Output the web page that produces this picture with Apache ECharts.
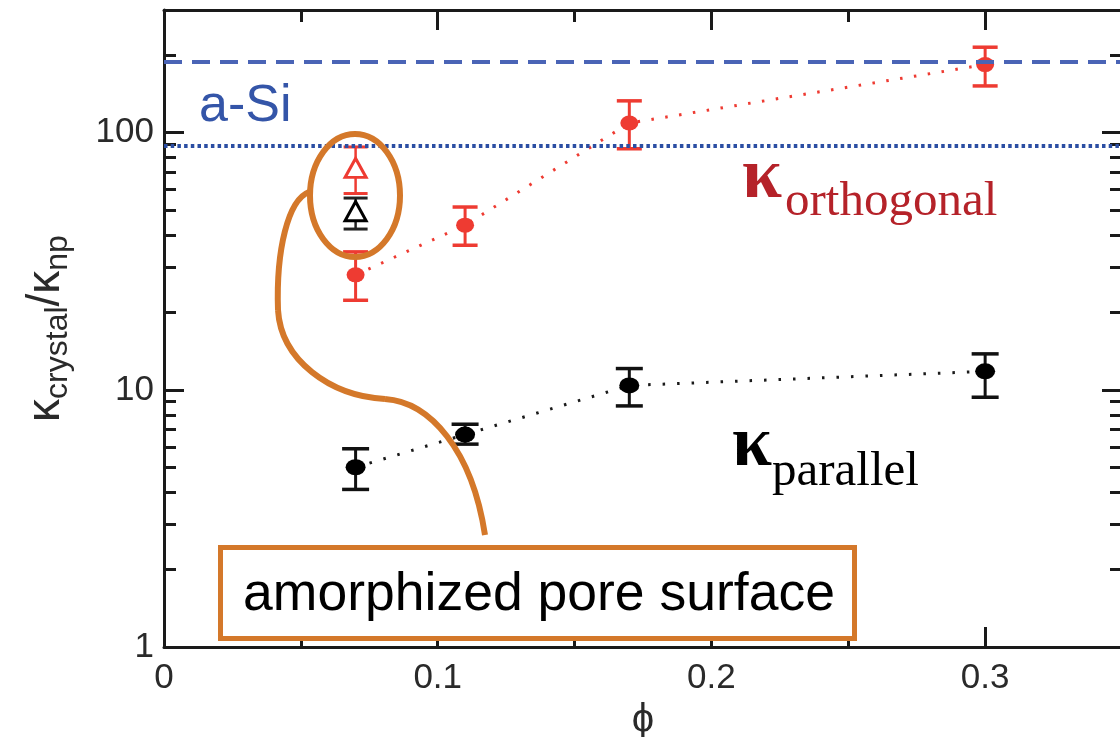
<!DOCTYPE html>
<html><head><meta charset="utf-8">
<script src="https://cdn.jsdelivr.net/npm/echarts@6/dist/echarts.min.js"></script>
<style>html,body{margin:0;padding:0;background:#fff}#c{width:1120px;height:737px}</style>
</head><body><div id="c"></div>
<script>
// ---- data ----
const phi = [0.07, 0.11, 0.17, 0.30];
const orthVal  = [28.0, 43.7, 109, 184];
const orthLow  = [22.3, 36.5, 86.6, 152];
const orthHigh = [34.4, 51.4, 133, 215];
const parVal  = [5.0, 6.7, 10.4, 11.8];
const parLow  = [4.1, 6.15, 8.66, 9.36];
const parHigh = [5.9, 7.35, 12.1, 13.8];
const amorphPhi = [0.07];
const amorphOrthVal = [73];
const amorphOrthLow = [58];
const amorphOrthHigh = [88];
const amorphParVal = [49.5];
const amorphParLow = [42.2];
const amorphParHigh = [55.7];
const aSiDashed = 188;
const aSiDotted = 89;
const yMinorTicks = [2,3,4,5,6,7,8,9,20,30,40,50,60,70,80,90,200,300];

const axisColor = '#1a1a1a';
const orange = '#d4782a';
const sans = '"Liberation Sans", Arial, Helvetica, sans-serif';
const serif = '"Liberation Serif", "Times New Roman", serif';

function xAx(pos, major) {
  return {
    type: 'value', min: 0, max: 0.35, interval: major ? 0.1 : 0.05, position: pos,
    axisLine: { show: major, onZero: false, lineStyle: { color: axisColor, width: 3 } },
    axisTick: { show: true, inside: true, length: major ? 20 : 12, lineStyle: { color: axisColor, width: 3 } },
    axisLabel: (pos === 'bottom' && major) ? {
      show: true, fontSize: 35, color: '#2a2a2a', fontFamily: sans, margin: 14, showMaxLabel: false,
      formatter: v => (v > 0.31 ? '' : String(+v.toFixed(2)))
    } : { show: false },
    splitLine: { show: false },
    name: (pos === 'bottom' && major) ? 'ϕ' : '',
    nameLocation: 'middle', nameGap: 44,
    nameTextStyle: { fontSize: 40, color: '#2a2a2a', fontFamily: sans }
  };
}
function yAx(pos, major) {
  const o = {
    type: 'log', logBase: 10, min: 1, max: 300, position: pos, offset: 0,
    axisLine: { show: major, onZero: false, lineStyle: { color: axisColor, width: 3 } },
    axisTick: { show: true, inside: true, length: major ? 20 : 12, lineStyle: { color: axisColor, width: 3 } },
    axisLabel: { show: false },
    splitLine: { show: false }
  };
  if (!major) o.axisTick.customValues = yMinorTicks;
  if (pos === 'left' && major) {
    o.axisLabel = { show: true, fontSize: 35, color: '#2a2a2a', fontFamily: sans, margin: 10,
      formatter: v => ([1, 10, 100].indexOf(Math.round(v)) >= 0 ? String(Math.round(v)) : '') };
    o.name = '{k|κ}{s|crystal}{k|/κ}{s|np}';
    o.nameLocation = 'middle';
    o.nameGap = 90;
    o.nameRotate = 90;
    o.nameTextStyle = { color: '#2a2a2a', rich: {
      k: { fontSize: 46, fontFamily: sans, color: '#2a2a2a' },
      s: { fontSize: 32, fontFamily: sans, color: '#2a2a2a', padding: [24, 0, 0, 0] }
    } };
  }
  return o;
}

function errBar(color, width, cap) {
  return function (params, api) {
    const x = api.value(0), lo = api.value(1), hi = api.value(2);
    const a = api.coord([x, hi]);
    const b = api.coord([x, lo]);
    const st = { stroke: color, lineWidth: width };
    return { type: 'group', children: [
      { type: 'line', shape: { x1: a[0], y1: a[1], x2: b[0], y2: b[1] }, style: st },
      { type: 'line', shape: { x1: a[0] - cap, y1: a[1], x2: a[0] + cap, y2: a[1] }, style: { stroke: color, lineWidth: width + 0.5 } },
      { type: 'line', shape: { x1: b[0] - cap, y1: b[1], x2: b[0] + cap, y2: b[1] }, style: { stroke: color, lineWidth: width + 0.5 } }
    ] };
  };
}
const zip3 = (xs, lo, hi) => xs.map((x, i) => [x, lo[i], hi[i]]);
const zip2 = (xs, ys) => xs.map((x, i) => [x, ys[i]]);

const red = '#ee3b32';
const option = {
  animation: false,
  backgroundColor: '#fff',
  grid: { left: 164, top: 10, width: 958, height: 637, containLabel: false, outerBoundsMode: 'none' },
  xAxis: [xAx('bottom', true), xAx('bottom', false), xAx('top', true), xAx('top', false)],
  yAxis: [yAx('left', true), yAx('left', false), yAx('right', true), yAx('right', false)],
  series: [
    { type: 'line', name: 'orth-line', data: zip2(phi, orthVal), symbol: 'none', z: 2,
      lineStyle: { color: red, width: 3, type: [2.5, 11.5] },
      markLine: { silent: true, symbol: ['none', 'none'], label: { show: false },
        data: [
          { yAxis: aSiDashed, lineStyle: { color: '#4a64b6', width: 4, type: [18, 10] } },
          { yAxis: aSiDotted, lineStyle: { color: '#2b4ea3', width: 4, type: [3.5, 3.2] } }
        ] } },
    { type: 'line', name: 'par-line', data: zip2(phi, parVal), symbol: 'none', z: 2,
      lineStyle: { color: '#1a1a1a', width: 3, type: [2.5, 12] } },
    { type: 'custom', name: 'orth-err', data: zip3(phi, orthLow, orthHigh), renderItem: errBar(red, 3, 12.5), encode: { x: 0, y: [1, 2] }, z: 3 },
    { type: 'custom', name: 'par-err', data: zip3(phi, parLow, parHigh), renderItem: errBar('#111', 3, 13.5), encode: { x: 0, y: [1, 2] }, z: 3 },
    { type: 'custom', name: 'am-orth-err', data: zip3(amorphPhi, amorphOrthLow, amorphOrthHigh), renderItem: errBar(red, 2.5, 12), encode: { x: 0, y: [1, 2] }, z: 3 },
    { type: 'custom', name: 'am-par-err', data: zip3(amorphPhi, amorphParLow, amorphParHigh), renderItem: errBar('#222', 2.5, 12), encode: { x: 0, y: [1, 2] }, z: 3 },
    { type: 'scatter', name: 'orth', data: zip2(phi, orthVal), symbol: 'circle', symbolSize: [18, 15], z: 4,
      itemStyle: { color: red, opacity: 1 } },
    { type: 'scatter', name: 'par', data: zip2(phi, parVal), symbol: 'circle', symbolSize: [20, 16], z: 4,
      itemStyle: { color: '#000', opacity: 1 } },
    { type: 'scatter', name: 'am-orth', data: zip2(amorphPhi, amorphOrthVal), symbol: 'triangle', symbolSize: [21, 19], z: 4,
      itemStyle: { color: '#fff', borderColor: red, borderWidth: 3, opacity: 1 } },
    { type: 'scatter', name: 'am-par', data: zip2(amorphPhi, amorphParVal), symbol: 'triangle', symbolSize: [21, 19], z: 4,
      itemStyle: { color: '#fff', borderColor: '#000', borderWidth: 3, opacity: 1 } }
  ],
  graphic: [
    { type: 'ellipse', z: 100, shape: { cx: 355, cy: 195.5, rx: 45, ry: 61.5 },
      style: { fill: 'none', stroke: orange, lineWidth: 6 } },
    { type: 'bezierCurve', z: 100, shape: { x1: 309, y1: 192, cpx1: 288, cpy1: 200, cpx2: 276, cpy2: 250, x2: 278, y2: 310 },
      style: { fill: 'none', stroke: orange, lineWidth: 6 } },
    { type: 'bezierCurve', z: 100, shape: { x1: 278, y1: 310, cpx1: 281, cpy1: 360, cpx2: 330, cpy2: 396, x2: 385, y2: 399 },
      style: { fill: 'none', stroke: orange, lineWidth: 6 } },
    { type: 'bezierCurve', z: 100, shape: { x1: 385, y1: 399, cpx1: 430, cpy1: 402, cpx2: 472, cpy2: 450, x2: 485, y2: 535 },
      style: { fill: 'none', stroke: orange, lineWidth: 6 } },
    { type: 'rect', z: 100, shape: { x: 220.5, y: 547.5, width: 634, height: 91 },
      style: { fill: '#fff', stroke: orange, lineWidth: 5 } },
    { type: 'text', z: 101, style: { text: 'amorphized pore surface', x: 539, y: 595, align: 'center', verticalAlign: 'middle',
      fontSize: 53.5, fontFamily: sans, fill: '#000' } },
    { type: 'text', z: 101, style: { text: 'a-Si', x: 199, y: 107, align: 'left', verticalAlign: 'middle',
      fontSize: 52, fontFamily: sans, fill: '#3455a8' } },
    { type: 'text', z: 101, style: { text: 'κ', x: 742, y: 178, align: 'left', verticalAlign: 'middle',
      fontSize: 72, fontWeight: 'bold', fontFamily: serif, fill: '#b52229' } },
    { type: 'text', z: 101, style: { text: 'orthogonal', x: 785, y: 202, align: 'left', verticalAlign: 'middle',
      fontSize: 49, fontFamily: serif, fill: '#b52229' } },
    { type: 'text', z: 101, style: { text: 'κ', x: 732, y: 446, align: 'left', verticalAlign: 'middle',
      fontSize: 72, fontWeight: 'bold', fontFamily: serif, fill: '#000' } },
    { type: 'text', z: 101, style: { text: 'parallel', x: 772, y: 472, align: 'left', verticalAlign: 'middle',
      fontSize: 49, fontFamily: serif, fill: '#000' } }
  ]
};
const chart = echarts.init(document.getElementById('c'), null, { renderer: 'canvas' });
chart.setOption(option);
</script></body></html>
